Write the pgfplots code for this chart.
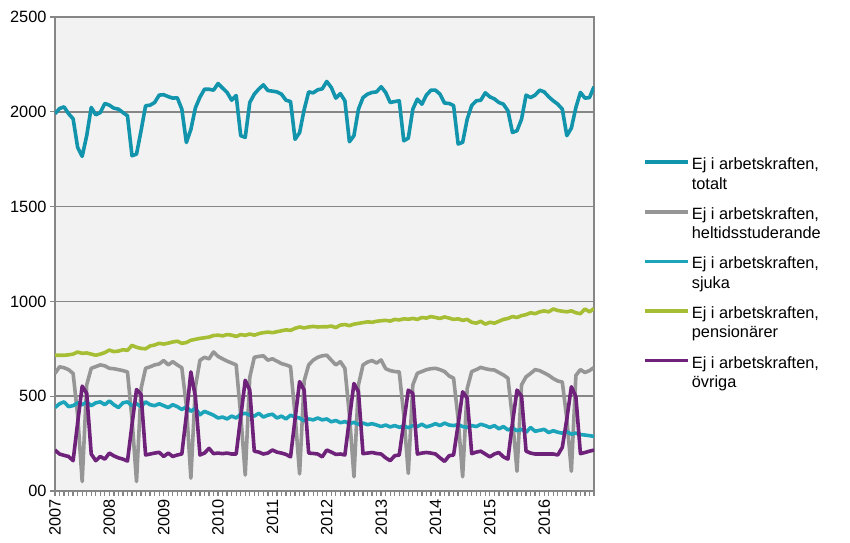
\documentclass[border=0pt]{standalone}
\usepackage{fontspec}
\setmainfont{Liberation Sans}
\usepackage{pgfplots}
\usepackage{pgfplotstable}
\pgfplotsset{compat=1.18}

\definecolor{ctot}{RGB}{18,148,172}
\definecolor{chel}{RGB}{150,150,150}
\definecolor{csju}{RGB}{28,164,186}
\definecolor{cpen}{RGB}{166,190,52}
\definecolor{covr}{RGB}{110,34,122}
\definecolor{cbg}{RGB}{242,242,242}
\definecolor{caxis}{RGB}{134,134,134}

\pgfplotstableread{
i tot hel sju pen ovr
0 1990 620 440 716 216
1 2017 655 460 716 195
2 2026 650 470 716 188
3 1990 640 445 718 182
4 1963 620 450 722 160
5 1812 400 465 733 360
6 1765 50 455 726 553
7 1874 560 470 728 515
8 2023 647 450 722 195
9 1984 656 465 716 160
10 1996 665 470 722 182
11 2044 660 455 730 168
12 2035 647 475 743 200
13 2019 645 455 735 185
14 2014 640 440 738 175
15 1996 635 465 745 168
16 1979 628 470 742 158
17 1768 380 450 768 350
18 1777 50 460 758 535
19 1900 540 445 752 509
20 2032 647 470 750 190
21 2035 655 455 765 195
22 2049 665 450 770 200
23 2088 670 460 779 204
24 2090 688 450 775 182
25 2080 665 440 780 200
26 2072 682 455 786 182
27 2074 665 445 790 190
28 2014 650 430 779 195
29 1838 450 444 783 400
30 1907 68 420 795 628
31 2021 550 437 800 496
32 2077 689 402 805 190
33 2119 705 420 808 200
34 2119 697 410 812 225
35 2114 733 400 820 197
36 2149 710 385 822 200
37 2125 697 390 818 197
38 2102 685 380 825 200
39 2061 675 395 822 195
40 2086 665 385 815 195
41 1874 400 405 825 390
42 1865 84 410 821 584
43 2049 600 400 828 532
44 2093 705 395 822 210
45 2120 710 410 830 205
46 2142 713 390 835 195
47 2112 690 400 838 200
48 2109 697 405 835 216
49 2105 685 385 840 205
50 2093 672 395 845 200
51 2061 665 380 850 193
52 2054 656 400 847 180
53 1855 400 390 858 380
54 1890 90 385 865 577
55 2010 580 370 860 532
56 2105 665 380 865 200
57 2100 690 375 868 198
58 2116 705 385 865 195
59 2121 713 375 866 180
60 2160 716 380 866 216
61 2128 690 365 870 205
62 2072 665 372 862 193
63 2096 682 360 875 195
64 2058 647 366 878 190
65 1842 400 355 872 380
66 1874 75 362 880 567
67 2014 560 352 884 523
68 2075 665 358 888 197
69 2093 680 350 892 200
70 2102 688 355 890 203
71 2105 675 348 895 198
72 2132 691 340 898 195
73 2102 645 348 900 175
74 2049 635 338 896 160
75 2054 630 345 905 186
76 2058 628 336 902 190
77 1847 400 342 908 360
78 1861 93 334 906 532
79 2014 560 345 910 515
80 2067 621 340 905 195
81 2040 630 352 915 200
82 2088 640 338 912 203
83 2114 645 345 920 200
84 2114 647 355 915 195
85 2093 640 345 910 175
86 2046 630 358 918 156
87 2044 607 348 912 186
88 2033 595 345 905 190
89 1830 380 350 908 350
90 1839 75 340 900 523
91 1961 540 335 905 490
92 2033 630 345 890 197
93 2058 640 340 885 205
94 2061 652 352 895 210
95 2100 645 345 880 195
96 2079 640 335 890 180
97 2068 638 345 885 195
98 2049 625 328 895 203
99 2040 612 340 905 180
100 2005 595 322 910 168
101 1891 380 332 920 360
102 1900 104 318 915 532
103 1961 560 325 925 500
104 2088 602 310 930 210
105 2075 620 335 940 200
106 2088 640 315 935 195
107 2114 635 320 945 195
108 2105 623 325 950 195
109 2079 610 308 945 195
110 2058 593 318 960 195
111 2040 580 310 952 190
112 2014 575 305 948 230
113 1874 380 312 945 380
114 1914 104 300 950 550
115 2023 610 305 940 497
116 2102 640 298 935 197
117 2072 625 295 960 203
118 2075 635 292 945 210
119 2132 651 288 962 216
}\data

\begin{document}
\begin{tikzpicture}[x=1bp,y=1bp,font=\fontsize{16.4}{19.5}\selectfont]
\useasboundingbox (0,0) rectangle (850,543);
\begin{axis}[
  at={(55bp,52bp)}, anchor=south west,
  scale only axis, width=539bp, height=474bp,
  xmin=0, xmax=119, ymin=0, ymax=2500,
  xtick={0,12,...,108},
  xticklabels={2007,2008,2009,2010,2011,2012,2013,2014,2015,2016},
  minor xtick={0,1,...,119},
  ytick={0,500,...,2500},
  yticklabels={00,500,1000,1500,2000,2500},
  xtick pos=bottom, ytick pos=left,
  tick align=outside,
  major tick length=5bp, minor tick length=5bp,
  tick style={color=caxis, line width=1.3bp},
  x tick label style={rotate=90, anchor=east, font=\fontsize{16.4}{19.5}\selectfont},
  y tick label style={font=\fontsize{16.4}{19.5}\selectfont},
  ymajorgrids, grid style={color=caxis, line width=1.6bp},
  axis line style={color=caxis, line width=1.6bp},
  axis background/.style={fill=cbg},
  every axis plot/.append style={line width=3.6bp, line join=round},
  legend cell align=left,
  legend style={at={(1.091,0.707)}, anchor=north west, draw=none, fill=none,
    inner sep=0pt, row sep=34.5bp,
    font=\fontsize{16.4}{19.5}\selectfont,
    nodes={inner sep=0bp, inner xsep=2bp}},
  legend image code/.code={\draw[#1] (0bp,1.5bp) -- (43bp,1.5bp);},
]
\addplot[ctot, no marks] table[x=i, y=tot] {\data};
\addlegendentry{\begin{tabular}[t]{@{}l@{}}Ej i arbetskraften,\\totalt\end{tabular}}
\addplot[chel, no marks] table[x=i, y=hel] {\data};
\addlegendentry{\begin{tabular}[t]{@{}l@{}}Ej i arbetskraften,\\heltidsstuderande\end{tabular}}
\addplot[csju, no marks] table[x=i, y=sju] {\data};
\addlegendentry{\begin{tabular}[t]{@{}l@{}}Ej i arbetskraften,\\sjuka\end{tabular}}
\addplot[cpen, no marks] table[x=i, y=pen] {\data};
\addlegendentry{\begin{tabular}[t]{@{}l@{}}Ej i arbetskraften,\\pensionärer\end{tabular}}
\addplot[covr, no marks] table[x=i, y=ovr] {\data};
\addlegendentry{\begin{tabular}[t]{@{}l@{}}Ej i arbetskraften,\\övriga\end{tabular}}
\end{axis}
\end{tikzpicture}
\end{document}
